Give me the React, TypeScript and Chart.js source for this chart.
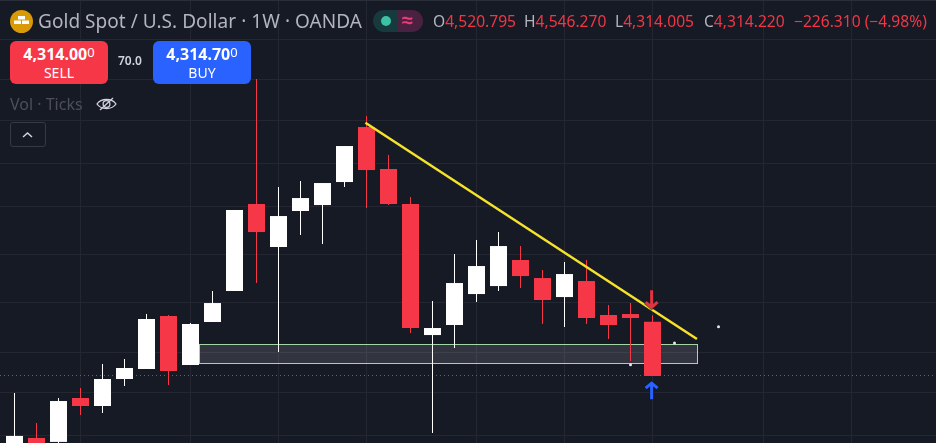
import React, { useEffect, useRef } from "react";
import { Chart, registerables } from "chart.js";

Chart.register(...registerables);

const opens = [4048, 4090, 4076, 4233.2, 4204.2, 4303.1, 4340.4, 4543.2, 4355.4, 4519.8, 4642.1, 5003.7, 4821.6, 4973.7, 4999.3, 5099.4, 5346.9, 5157, 5003.7, 4469.3, 4508.1, 4630.1, 4662.1, 4767.9, 4694.4, 4618.1, 4682.3, 4547.1, 4551, 4520.795];
const highs = [4251.5, 4143.2, 4233.2, 4269.8, 4359.1, 4377.9, 4551, 4547.1, 4515.9, 4642.1, 4977.8, 5572.8, 5077.4, 5103.7, 5095, 5260.1, 5397.8, 5219.4, 5033.9, 4602.2, 4792.6, 4850.7, 4884.2, 4825.7, 4726.9, 4759.6, 4767.9, 4586.4, 4594.3, 4546.27];
const lows = [4030.5, 4041, 4062, 4171.8, 4179, 4277.2, 4340.4, 4280.9, 4355.4, 4519.8, 4642.1, 4674.2, 4404.2, 4871.6, 4834, 5077.4, 4986.4, 4999.3, 4477, 4107.6, 4419.6, 4598.3, 4642.1, 4654, 4512, 4500.3, 4512, 4453.9, 4370.4, 4314.005];
const closes = [4097.1, 4058.5, 4222.2, 4204.2, 4303.1, 4344.1, 4531.5, 4332.9, 4512, 4594.3, 4977.8, 4884.2, 4952.1, 5029.5, 5095, 5260.1, 5152.4, 5003.7, 4496.4, 4496.4, 4674.2, 4743.2, 4825.7, 4702.5, 4606.3, 4710.6, 4535.4, 4508.1, 4535.4, 4314.22];

const gridPrices = [5766, 5571, 5378, 5182, 4991, 4791, 4597, 4403, 4254, 4100];
const gridWeeks = [3, 8, 12, 16, 21, 25, 29, 34.05, 38.05];
const trendWeeks = [15.95, 31.02];
const trendPrices = [5366.6, 4454];
const zoneWeeks = [8.386, 31.02];
const zonePrices = [4434, 4362.5];
const dotWeeks = [28, 30, 32];
const dotPrices = [4356.5, 4438.6, 4501.5];
const lastPrice = 4316;
const arrowWeek = 28.96;
const sellArrowPrices = [4645, 4570];
const buyArrowPrices = [4295, 4229];

const RED = "#f63748";
const WHITE = "#ffffff";
const BLUE = "#2962ff";
const BG = "#161a25";
const GRID = "#242732";

const drawArrow = (ctx: CanvasRenderingContext2D, x: number, tip: number, tail: number, color: string) => {
  const dir = tail > tip ? 1 : -1;
  const path = () => {
    ctx.beginPath();
    ctx.moveTo(x, tail);
    ctx.lineTo(x, tip + dir * 2);
    ctx.moveTo(x - 6, tip + dir * 7);
    ctx.lineTo(x, tip + dir * 2);
    ctx.lineTo(x + 6, tip + dir * 7);
  };
  ctx.lineCap = "butt";
  ctx.lineJoin = "miter";
  ctx.strokeStyle = "rgba(19,23,34,0.6)";
  ctx.lineWidth = 5;
  path();
  ctx.stroke();
  ctx.strokeStyle = color;
  ctx.lineWidth = 3;
  path();
  ctx.stroke();
};

const overlayPlugin = {
  id: "overlays",
  beforeDatasetsDraw(chart: any) {
    const { ctx, scales } = chart;
    const x0 = Math.round(scales.x.getPixelForValue(zoneWeeks[0]));
    const x1 = Math.round(scales.x.getPixelForValue(zoneWeeks[1]));
    const y0 = Math.round(scales.y.getPixelForValue(zonePrices[0]));
    const y1 = Math.round(scales.y.getPixelForValue(zonePrices[1]));
    ctx.save();
    ctx.fillStyle = "rgba(255,255,255,0.12)";
    ctx.fillRect(x0, y0, x1 - x0, y1 - y0);
    ctx.strokeStyle = "#a5d6a7";
    ctx.lineWidth = 1;
    ctx.strokeRect(x0 + 0.5, y0 + 0.5, x1 - x0, y1 - y0);
    ctx.restore();
  },
  afterDatasetsDraw(chart: any) {
    const { ctx, scales } = chart;
    const x = scales.x.getPixelForValue(arrowWeek);
    ctx.save();
    drawArrow(ctx, x, scales.y.getPixelForValue(sellArrowPrices[1]), scales.y.getPixelForValue(sellArrowPrices[0]), "#e23340");
    drawArrow(ctx, x, scales.y.getPixelForValue(buyArrowPrices[0]), scales.y.getPixelForValue(buyArrowPrices[1]), BLUE);
    ctx.restore();
  },
};

const abs = (left: number, top: number, extra: React.CSSProperties = {}): React.CSSProperties => ({
  position: "absolute",
  left,
  top,
  whiteSpace: "nowrap",
  ...extra,
});

export default function App() {
  const ref = useRef<HTMLCanvasElement | null>(null);

  useEffect(() => {
    if (!ref.current) return;
    const colors = opens.map((o, i) => (closes[i] >= o ? WHITE : RED));
    const chart = new Chart(ref.current, {
      type: "bar",
      data: {
        datasets: [
          {
            type: "scatter",
            data: dotWeeks.map((x, i) => ({ x, y: dotPrices[i] })),
            backgroundColor: "#e8e8e8",
            pointRadius: 1.5,
            pointBorderWidth: 0,
            order: 1,
          },
          {
            type: "line",
            data: trendWeeks.map((x, i) => ({ x, y: trendPrices[i] })),
            borderColor: "#f5e22b",
            borderWidth: 2.5,
            pointRadius: 0,
            order: 2,
          },
          {
            type: "bar",
            data: opens.map((o, i) => ({ x: i, y: [o, closes[i]] })),
            backgroundColor: colors,
            barThickness: 17,
            inflateAmount: 0,
            grouped: false,
            order: 3,
          },
          {
            type: "bar",
            data: opens.map((_, i) => ({ x: i, y: [lows[i], highs[i]] })),
            backgroundColor: colors,
            barThickness: 1,
            inflateAmount: 0,
            grouped: false,
            order: 4,
          },
          {
            type: "line",
            data: [
              { x: -14.5 / 22, y: lastPrice },
              { x: (936 - 14.5) / 22, y: lastPrice },
            ],
            borderColor: "#b8405c",
            borderWidth: 1,
            borderDash: [1, 3],
            pointRadius: 0,
            order: 5,
          },
        ],
      } as any,
      options: {
        animation: false,
        responsive: false,
        layout: { padding: 0, autoPadding: false },
        plugins: { legend: { display: false }, tooltip: { enabled: false } },
        scales: {
          x: {
            type: "linear",
            offset: false,
            min: -14.5 / 22,
            max: (936 - 14.5) / 22,
            afterBuildTicks: (s: any) => {
              s.ticks = gridWeeks.map((value) => ({ value }));
            },
            ticks: { display: false, autoSkip: false },
            grid: { color: GRID, drawTicks: false, offset: false },
            border: { display: false },
          },
          y: {
            type: "logarithmic",
            min: 4072.2,
            max: 5965.7,
            afterBuildTicks: (s: any) => {
              s.ticks = gridPrices.map((value) => ({ value }));
            },
            ticks: { display: false, autoSkip: false },
            grid: { color: GRID, drawTicks: false },
            border: { display: false },
          },
        },
      } as any,
      plugins: [overlayPlugin],
    });
    return () => chart.destroy();
  }, []);

  const font = '"Noto Sans", sans-serif';
  const ohlc = [
    ["O", "4,520.795", 433],
    ["H", "4,546.270", 524],
    ["L", "4,314.005", 615],
    ["C", "4,314.220", 704],
  ] as [string, string, number][];
  const label = "#b2b5be";
  const priceRed = "#f23645";

  return (
    <div style={{ position: "fixed", left: 0, top: 0, width: 936, height: 443, overflow: "hidden", background: BG, fontFamily: font }}>
      <canvas ref={ref} width={936} height={443} style={{ display: "block", position: "absolute", left: 0, top: 0 }} />
      <div style={abs(0, 0, { width: 936, height: 1, background: "#2a2e39" })} />

      <svg style={abs(10, 10)} width="23" height="23" viewBox="0 0 23 23">
        <circle cx="11.5" cy="11.5" r="11.5" fill="#d99a05" />
        <rect x="8" y="6" width="7" height="3.5" fill="#fff" />
        <rect x="4" y="10.5" width="7" height="3.5" fill="#fff" />
        <rect x="12" y="10.5" width="7" height="3.5" fill="#fff" />
      </svg>
      <div style={abs(38, 8, { color: label, fontSize: 19, lineHeight: "26px", letterSpacing: 0.05 })}>Gold Spot / U.S. Dollar · 1W · OANDA</div>

      <div style={abs(373, 10, { width: 25, height: 22, background: "#163a3d", borderRadius: "11px 0 0 11px" })} />
      <div style={abs(398, 10, { width: 25, height: 22, background: "#4a2140", borderRadius: "0 11px 11px 0" })} />
      <div style={abs(381, 16, { width: 10, height: 10, borderRadius: 5, background: "#3cc2a4" })} />
      <div style={abs(402, 6, { color: "#ef3a7a", fontSize: 20, lineHeight: "28px", fontWeight: 700 })}>≈</div>

      {ohlc.map(([k, v, x]) => (
        <div key={k} style={abs(x, 10, { fontSize: 15.6, lineHeight: "22px" })}>
          <span style={{ color: label }}>{k}</span>
          <span style={{ color: priceRed }}>{v}</span>
        </div>
      ))}
      <div style={abs(794, 10, { fontSize: 15.6, lineHeight: "22px", color: priceRed })}>−226.310 (−4.98%)</div>

      <div style={abs(10, 41, { width: 98, height: 43, background: "#f63748", borderRadius: 6, color: "#fff", textAlign: "center" })}>
        <div style={{ fontSize: 16, lineHeight: "20px", fontWeight: 700, marginTop: 3 }}>
          4,314.00<sup style={{ fontSize: 13, fontWeight: 400, verticalAlign: "3px", lineHeight: 0 }}>0</sup>
        </div>
        <div style={{ fontSize: 14, lineHeight: "18px" }}>SELL</div>
      </div>
      <div style={abs(118, 52, { color: "#d1d4dc", fontSize: 12, lineHeight: "18px", fontWeight: 600 })}>70.0</div>
      <div style={abs(153, 41, { width: 98, height: 43, background: BLUE, borderRadius: 6, color: "#fff", textAlign: "center" })}>
        <div style={{ fontSize: 16, lineHeight: "20px", fontWeight: 700, marginTop: 3 }}>
          4,314.70<sup style={{ fontSize: 13, fontWeight: 400, verticalAlign: "3px", lineHeight: 0 }}>0</sup>
        </div>
        <div style={{ fontSize: 14, lineHeight: "18px" }}>BUY</div>
      </div>

      <div style={abs(10, 92, { color: "#4c4f59", fontSize: 16, lineHeight: "24px" })}>Vol · Ticks</div>
      <svg style={abs(96, 94)} width="21" height="20" viewBox="0 0 21 20" fill="none" stroke="#d1d4dc" strokeWidth="1.3">
        <path d="M1 10 C5 4 16 4 20 10 C16 16 5 16 1 10 Z" />
        <circle cx="10.5" cy="10" r="3.4" />
        <path d="M4 16 L17 4" />
      </svg>

      <div style={abs(10, 122, { width: 34, height: 23, border: "1px solid #363a45", borderRadius: 3 })} />
      <svg style={abs(21, 130)} width="13" height="9" viewBox="0 0 13 9" fill="none" stroke="#d1d4dc" strokeWidth="1.5">
        <path d="M2 7 L6.5 3 L11 7" />
      </svg>
    </div>
  );
}
